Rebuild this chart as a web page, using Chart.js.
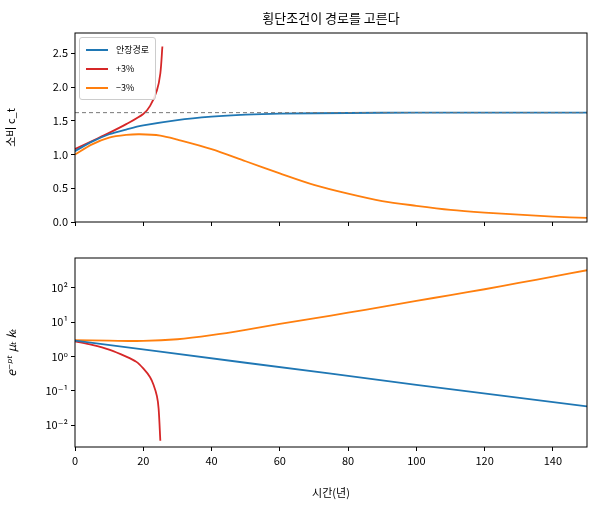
<!DOCTYPE html>
<html>
<head>
<meta charset="utf-8">
<script src="https://cdn.jsdelivr.net/npm/chart.js@4/dist/chart.umd.min.js"></script>
<style>
  body { margin: 0; background: #fff; font-family: "Noto Sans CJK KR", "DejaVu Sans", sans-serif; }
  .box { position: absolute; left: 0; width: 596px; }
  #title { position: absolute; top: 8px; left: 75px; width: 512px; text-align: center; font-size: 13px; color: #000; }
  #legend { position: absolute; left: 79px; top: 37px; background: rgba(255,255,255,0.85); border: 1px solid #ccc; border-radius: 3px; padding: 2px 6px; font-size: 9px; }
  #legend div { display: flex; align-items: center; height: 19px; }
  #legend span { display: inline-block; width: 22px; height: 2px; margin-right: 8px; }
</style>
</head>
<body>
<div class="box" style="top:0;height:240px"><canvas id="top"></canvas></div>
<div class="box" style="top:240px;height:267px"><canvas id="bottom"></canvas></div>
<div id="title">횡단조건이 경로를 고른다</div>
<div id="legend">
  <div><span style="background:#1f77b4"></span>안장경로</div>
  <div><span style="background:#d62728"></span>+3%</div>
  <div><span style="background:#ff7f0e"></span>−3%</div>
</div>
<script>
// 소비 경로 (상단)
const stableT = [0, 5, 10, 15, 20, 30, 40, 50, 60, 80, 100, 150];
const stableC = [1.05, 1.19, 1.3, 1.37, 1.43, 1.51, 1.56, 1.59, 1.605, 1.615, 1.62, 1.62];
const upT = [0, 5, 10, 15, 20, 22, 24, 25, 25.6];
const upC = [1.08, 1.2, 1.32, 1.45, 1.6, 1.72, 1.95, 2.2, 2.6];
const downT = [0, 5, 10, 15, 19, 25, 30, 40, 50, 60, 70, 80, 90, 100, 110, 120, 130, 140, 150];
const downC = [1.0, 1.15, 1.25, 1.29, 1.3, 1.28, 1.22, 1.08, 0.9, 0.72, 0.55, 0.42, 0.31, 0.24, 0.18, 0.14, 0.11, 0.08, 0.06];
const steadyC = 1.62;

// 횡단조건 값 (하단, 로그)
const stableTv = [0, 25, 50, 75, 100, 125, 150];
const stableV = [2.9, 1.4, 0.66, 0.32, 0.15, 0.072, 0.035];
const upTv = [0, 5, 10, 15, 18, 20, 22, 23, 24, 24.5, 25];
const upV = [2.8, 2.2, 1.6, 1.0, 0.7, 0.45, 0.25, 0.15, 0.07, 0.03, 0.0035];
const downTv = [0, 10, 20, 30, 40, 50, 60, 70, 80, 90, 100, 110, 120, 130, 140, 150];
const downV = [3.0, 2.9, 2.85, 3.2, 4.2, 6, 9, 13, 19, 28, 42, 62, 92, 140, 215, 330];

const xTicks = [0, 20, 40, 60, 80, 100, 120, 140];
const sup = { '-': '⁻', '0': '⁰', '1': '¹', '2': '²', '3': '³' };

const pts = (xs, ys) => xs.map((x, i) => ({ x: x, y: ys[i] }));
const line = (data, color, extra) => Object.assign({ data, borderColor: color, borderWidth: 1.8, pointRadius: 0, tension: 0.3, fill: false }, extra || {});

const frame = {
  id: 'frame',
  afterDraw(chart) {
    const a = chart.chartArea, c = chart.ctx;
    c.save(); c.strokeStyle = '#000'; c.lineWidth = 1;
    c.strokeRect(a.left, a.top, a.right - a.left, a.bottom - a.top);
    c.restore();
  }
};

const font = { family: '"Noto Sans CJK KR", "DejaVu Sans", sans-serif', size: 11 };
const gridOpt = { drawOnChartArea: false, drawTicks: true, tickLength: 4, color: '#000' };

function xAxis(showLabels, height) {
  return {
    type: 'linear', min: 0, max: 150,
    afterBuildTicks: s => { s.ticks = xTicks.map(v => ({ value: v })); },
    ticks: { display: showLabels, color: '#000', font, maxRotation: 0 },
    grid: gridOpt, border: { display: false },
    title: { display: showLabels, text: '시간(년)', color: '#000', font },
    afterFit: s => { s.height = height; }
  };
}

new Chart(document.getElementById('top'), {
  type: 'line',
  data: {
    datasets: [
      line([{ x: 0, y: steadyC }, { x: 150, y: steadyC }], '#777', { borderWidth: 1, borderDash: [4, 3], tension: 0 }),
      line(pts(stableT, stableC), '#1f77b4'),
      line(pts(upT, upC), '#d62728'),
      line(pts(downT, downC), '#ff7f0e')
    ]
  },
  options: {
    responsive: true, maintainAspectRatio: false, animation: false,
    layout: { padding: { top: 33, right: 9, left: 0, bottom: 0 } },
    plugins: { legend: { display: false }, tooltip: { enabled: false } },
    scales: {
      x: xAxis(false, 18),
      y: {
        min: 0, max: 2.8,
        afterBuildTicks: s => { s.ticks = [0, 0.5, 1, 1.5, 2, 2.5].map(v => ({ value: v })); },
        ticks: { color: '#000', font, callback: v => v.toFixed(1) },
        grid: gridOpt, border: { display: false },
        title: { display: true, text: '소비 c_t', color: '#000', font },
        afterFit: s => { s.width = 75; }
      }
    }
  },
  plugins: [frame]
});

new Chart(document.getElementById('bottom'), {
  type: 'line',
  data: {
    datasets: [
      line(pts(stableTv, stableV), '#1f77b4', { tension: 0 }),
      line(pts(upTv, upV), '#d62728'),
      line(pts(downTv, downV), '#ff7f0e')
    ]
  },
  options: {
    responsive: true, maintainAspectRatio: false, animation: false,
    layout: { padding: { top: 18, right: 9, left: 0, bottom: 4 } },
    plugins: { legend: { display: false }, tooltip: { enabled: false } },
    scales: {
      x: xAxis(true, 56),
      y: {
        type: 'logarithmic', min: 0.0023, max: 750,
        afterBuildTicks: s => { s.ticks = [-2, -1, 0, 1, 2].map(e => ({ value: Math.pow(10, e) })); },
        ticks: {
          color: '#000', font,
          callback: v => '10' + String(Math.round(Math.log10(v))).split('').map(ch => sup[ch]).join('')
        },
        grid: gridOpt, border: { display: false },
        title: { display: true, text: 'e⁻ᵖᵗ μₜ kₜ', color: '#000', font: { family: font.family, size: 12, style: 'italic' } },
        afterFit: s => { s.width = 75; }
      }
    }
  },
  plugins: [frame]
});
</script>
</body>
</html>
